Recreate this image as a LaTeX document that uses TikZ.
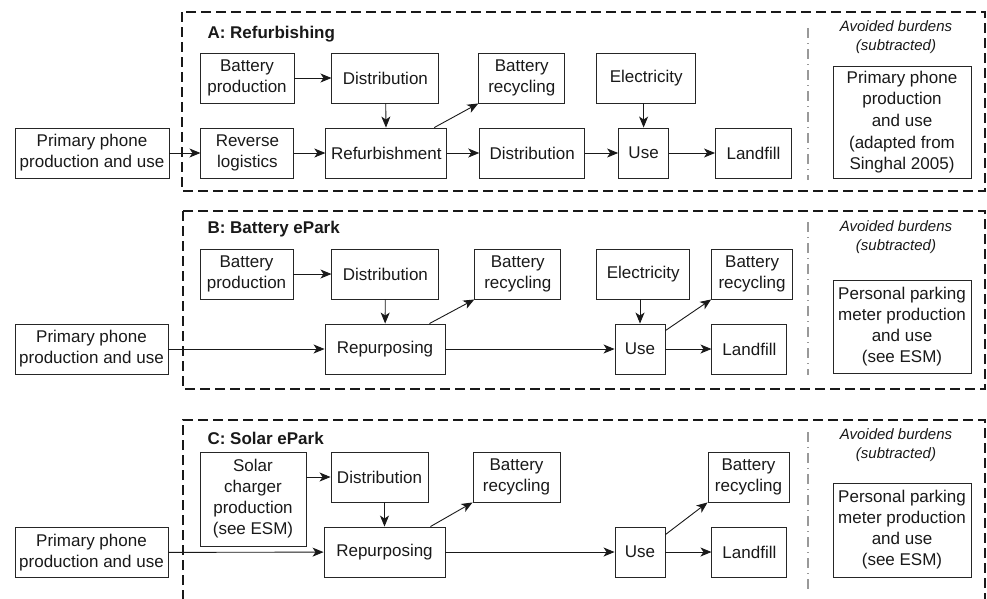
\documentclass[tikz,border=0pt]{standalone}
\usepackage{fontspec}
\setmainfont{Liberation Sans}
\usetikzlibrary{positioning, arrows.meta}

\tikzset{
  box/.style={draw=black!85, line width=0.9pt, minimum height=50pt, align=center,
    inner xsep=3pt, inner ysep=2pt, text=black!90, font=\fontsize{17pt}{21pt}\selectfont},
  arr/.style={-{Stealth[length=11pt, width=9pt, inset=3pt]}, line width=0.9pt, draw=black!90},
  panel/.style={line width=2.3pt, dash pattern=on 10pt off 5pt, draw=black!90},
  divider/.style={line width=1.2pt, draw=black!40, dash pattern=on 10pt off 5pt on 1pt off 5pt},
  paneltitle/.style={anchor=west, text=black!90, font=\fontsize{17pt}{21pt}\selectfont\bfseries},
  avoided/.style={align=center, text=black!90, font=\fontsize{15pt}{19pt}\selectfont\itshape}
}

\begin{document}
\begin{tikzpicture}[x=1pt, y=-1pt]
  \useasboundingbox (0,0) rectangle (987,598);

  % A: Refurbishing
  \draw[panel] (182,12) rectangle (985,191);
  \node[paneltitle] (titleA) at (204,34) {A: Refurbishing};
  \node[box, minimum width=94pt] (bpA) at (247,78) {Battery\\production};
  \node[box, minimum width=107pt, right=37pt of bpA] (distA) {Distribution};
  \node[box, minimum width=86pt, right=39pt of distA] (recA) {Battery\\recycling};
  \node[box, minimum width=99pt, right=31pt of recA] (elecA) {Electricity};
  \node[box, minimum width=154pt] (primA) at (92,153) {Primary phone\\production and use};
  \node[box, minimum width=93pt, right=31pt of primA] (revA) {Reverse\\logistics};
  \node[box, minimum width=121pt, right=31pt of revA] (refA) {Refurbishment};
  \node[box, minimum width=105pt, right=32pt of refA] (distAb) {Distribution};
  \node[box, minimum width=50pt, right=33pt of distAb] (useA) {Use};
  \node[box, minimum width=76pt, right=46pt of useA] (landA) {Landfill};
  \draw[divider] (808,28) -- (808,180);
  \node[avoided] (avA) at (896,37.5) {Avoided burdens\\(subtracted)};
  \node[box, minimum width=138pt, minimum height=112pt, font=\fontsize{17pt}{21.7pt}\selectfont] (subA) at (902,122)
    {Primary phone\\production\\and use\\(adapted from\\Singhal 2005)};

  \draw[arr] (primA) -- (revA);
  \draw[arr] (revA) -- (refA);
  \draw[arr] (refA) -- (distAb);
  \draw[arr] (distAb) -- (useA);
  \draw[arr] (useA) -- (landA);
  \draw[arr] (bpA) -- (distA);
  \draw[arr] (distA) -- (refA);
  \draw[arr] (elecA.south -| useA.north) -- (useA.north);
  \draw[arr] ([xshift=-13pt]refA.north east) -- (recA.south west);

  % B: Battery ePark
  \draw[panel] (183,211) rectangle (985,389);
  \node[paneltitle] (titleB) at (204,229) {B: Battery ePark};
  \node[box, minimum width=93pt] (bpB) at (246.5,274) {Battery\\production};
  \node[box, minimum width=107pt, right=38pt of bpB] (distB) {Distribution};
  \node[box, minimum width=86pt, right=35pt of distB] (recB) {Battery\\recycling};
  \node[box, minimum width=93pt, right=35pt of recB] (elecB) {Electricity};
  \node[box, minimum width=81pt, right=21pt of elecB] (recBb) {Battery\\recycling};
  \node[box, minimum width=153pt] (primB) at (91.5,349) {Primary phone\\production and use};
  \node[box, minimum width=120pt] (repB) at (385,349) {Repurposing};
  \node[box, minimum width=50pt] (useB) at (640,349) {Use};
  \node[box, minimum width=75pt, right=46pt of useB] (landB) {Landfill};
  \draw[divider] (808,222) -- (808,375);
  \node[avoided] (avB) at (896,237.5) {Avoided burdens\\(subtracted)};
  \node[box, minimum width=138pt, minimum height=93pt] (subB) at (902,326.5)
    {Personal parking\\meter production\\and use\\(see ESM)};

  \draw[arr] (primB) -- (repB);
  \draw[arr] (repB) -- (useB);
  \draw[arr] (useB) -- (landB);
  \draw[arr] (bpB) -- (distB);
  \draw[arr] (distB) -- (repB);
  \draw[arr] (elecB.south -| useB.north) -- (useB.north);
  \draw[arr] ([xshift=-16pt]repB.north east) -- (recB.south west);
  \draw[arr] ([yshift=-7pt]useB.north east) -- (recBb.south west);

  % C: Solar ePark
  \draw[panel] (183,600) -- (183,420) -- (985,420) -- (985,600);
  \node[paneltitle] (titleC) at (204,438) {C: Solar ePark};
  \node[box, minimum width=106pt, minimum height=94pt] (solC) at (253,499)
    {Solar\\charger\\production\\(see ESM)};
  \node[box, minimum width=97pt] (distC) at (379.5,477) {Distribution};
  \node[box, minimum width=87pt] (recC) at (516.5,477) {Battery\\recycling};
  \node[box, minimum width=81pt] (recCb) at (748.5,477) {Battery\\recycling};
  \node[box, minimum width=153pt] (primC) at (91.5,552.5) {Primary phone\\production and use};
  \node[box, minimum width=121pt] (repC) at (384.5,552) {Repurposing};
  \node[box, minimum width=50pt] (useC) at (640,552) {Use};
  \node[box, minimum width=75pt, right=46pt of useC] (landC) {Landfill};
  \draw[divider] (808,432) -- (808,590);
  \node[avoided] (avC) at (896,445.5) {Avoided burdens\\(subtracted)};
  \node[box, minimum width=138pt, minimum height=94pt] (subC) at (902,530)
    {Personal parking\\meter production\\and use\\(see ESM)};

  \draw[arr] (primC) -- (repC);
  \draw[arr] (repC) -- (useC);
  \draw[arr] (useC) -- (landC);
  \draw[arr] (solC.east |- distC) -- (distC);
  \draw[arr] (distC.south -| repC.north) -- (repC.north);
  \draw[arr] ([xshift=-15pt]repC.north east) -- (recC.south west);
  \draw[arr] ([yshift=-8pt]useC.north east) -- (recCb.south west);
\end{tikzpicture}
\end{document}
